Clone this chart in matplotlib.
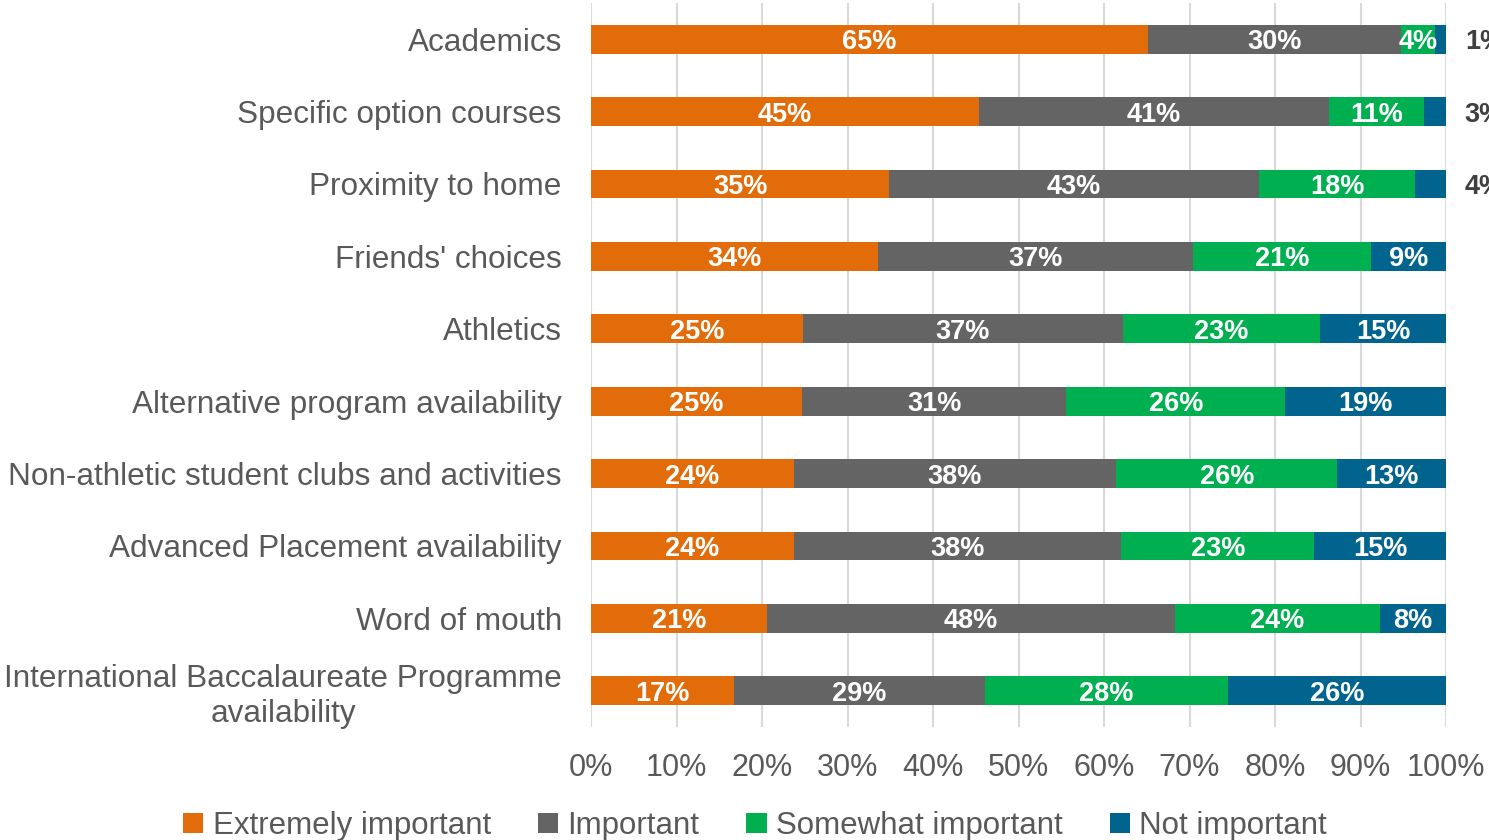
import matplotlib
matplotlib.use("Agg")
import matplotlib.pyplot as plt
import numpy as np

plt.rcParams['font.family'] = ['Liberation Sans', 'DejaVu Sans']

categories = [
    "Academics",
    "Specific option courses",
    "Proximity to home",
    "Friends' choices",
    "Athletics",
    "Alternative program availability",
    "Non-athletic student clubs and activities",
    "Advanced Placement availability",
    "Word of mouth",
    "International Baccalaureate Programme\navailability",
]
series_names = ["Extremely important", "Important", "Somewhat important", "Not important"]
extremely = [65.1, 45.4, 34.9, 33.6, 24.8, 24.7, 23.7, 23.7, 20.6, 16.7]
important = [29.6, 40.9, 43.2, 36.8, 37.4, 30.9, 37.7, 38.3, 47.7, 29.4]
somewhat = [4.0, 11.1, 18.3, 20.8, 23.1, 25.6, 25.9, 22.6, 24.0, 28.4]
not_important = [1.3, 2.6, 3.6, 8.8, 14.7, 18.8, 12.7, 15.4, 7.7, 25.5]
xticks = [0, 10, 20, 30, 40, 50, 60, 70, 80, 90, 100]

colors = ["#E36C0A", "#646464", "#00B050", "#00648F"]
text_gray = "#595959"

fig = plt.figure(figsize=(14.89, 8.4), dpi=100)
ax = fig.add_axes([591/1489, (840-727)/840, 855/1489, 724/840])

y = np.arange(len(categories))
data = [extremely, important, somewhat, not_important]
left = np.zeros(len(categories))
bars = []
for vals, col, name in zip(data, colors, series_names):
    vals = np.array(vals)
    b = ax.barh(y, vals, left=left, height=0.4, color=col, label=name, zorder=3)
    bars.append(b)
    for yi, (l, v) in enumerate(zip(left, vals)):
        txt = f"{int(round(v))}%"
        if v < 3.8:
            ax.text(102.2, yi, txt, ha='left', va='center_baseline', fontsize=19.5,
                    fontweight='bold', color='#404040', clip_on=False)
        else:
            ax.text(l + v/2, yi, txt, ha='center', va='center_baseline', fontsize=19.5,
                    fontweight='bold', color='white', zorder=4)
    left = left + vals

ax.set_xlim(0, 100)
ax.set_ylim(len(categories) - 0.5, -0.5)
ax.set_xticks(xticks)
ax.set_xticklabels([f"{t}%" for t in xticks])
ax.set_yticks(y)
ax.set_yticklabels(categories, multialignment='center')
ax.tick_params(axis='x', length=0, pad=19, labelsize=22, labelcolor=text_gray)
ax.tick_params(axis='y', length=0, pad=21, labelsize=22.7, labelcolor=text_gray)
ax.grid(axis='x', color='#D9D9D9', linewidth=1.5, zorder=0)
ax.set_axisbelow(True)
for s in ax.spines.values():
    s.set_visible(False)

fig.legend(handles=bars, labels=series_names, loc='center', ncol=4,
           bbox_to_anchor=(0.507, 1 - 826/840), frameon=False,
           fontsize=22.5, labelcolor=text_gray, handlelength=0.65,
           handleheight=0.65, handletextpad=0.3, columnspacing=1.5,
           borderaxespad=0, borderpad=0)

fig.savefig("out.png", dpi=100)
